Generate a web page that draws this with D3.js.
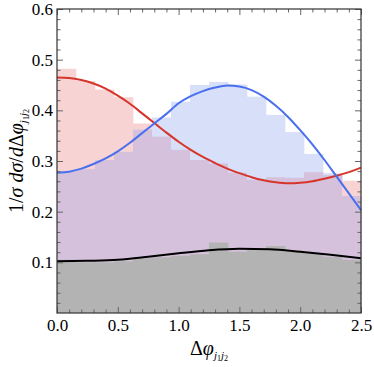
<!DOCTYPE html>
<html><head><meta charset="utf-8">
<script src="https://cdn.jsdelivr.net/npm/d3@7"></script>
<style>body{margin:0;background:#fff}</style>
</head><body><svg id="c" width="374" height="367"></svg>
<script>
// ---- data ----
const binStarts = [0,0.15625,0.3125,0.46875,0.625,0.78125,0.9375,1.09375,1.25,1.40625,1.5625,1.71875,1.875,2.03125,2.1875,2.34375];
const binWidth = 0.15625;
const redHist  = [0.482,0.458,0.441,0.426,0.374,0.348,0.322,0.302,0.295,0.277,0.263,0.268,0.267,0.278,0.272,0.261];
const blueHist = [0.280,0.284,0.302,0.318,0.362,0.386,0.417,0.450,0.456,0.451,0.427,0.391,0.357,0.314,0.276,0.231];
const grayHist = [0.105,0.100,0.100,0.102,0.108,0.110,0.113,0.116,0.139,0.121,0.124,0.132,0.123,0.118,0.111,0.105];

const curveX    = [0,0.1,0.2,0.3,0.4,0.5,0.6,0.7,0.8,0.9,1.0,1.1,1.2,1.3,1.4,1.5,1.6,1.7,1.8,1.9,2.0,2.1,2.2,2.3,2.4,2.5];
const redCurve  = [0.465,0.464,0.460,0.453,0.443,0.429,0.413,0.394,0.375,0.356,0.338,0.322,0.308,0.296,0.285,0.276,0.268,0.262,0.258,0.256,0.257,0.260,0.265,0.271,0.278,0.287];
const blueCurve = [0.277,0.279,0.285,0.294,0.305,0.319,0.336,0.355,0.374,0.393,0.414,0.428,0.438,0.445,0.449,0.447,0.440,0.427,0.409,0.387,0.361,0.333,0.302,0.269,0.236,0.203];
const blackX    = [0,0.25,0.5,0.75,1.0,1.25,1.5,1.75,2.0,2.25,2.5];
const blackCurve= [0.102,0.103,0.105,0.111,0.118,0.124,0.127,0.126,0.121,0.115,0.108];

const xMajor = [0,0.5,1.0,1.5,2.0,2.5];
const xMinor = [0.1,0.2,0.3,0.4,0.6,0.7,0.8,0.9,1.1,1.2,1.3,1.4,1.6,1.7,1.8,1.9,2.1,2.2,2.3,2.4];
const yMajor = [0.1,0.2,0.3,0.4,0.5,0.6];
const yMinor = [0.02,0.04,0.06,0.08,0.12,0.14,0.16,0.18,0.22,0.24,0.26,0.28,0.32,0.34,0.36,0.38,0.42,0.44,0.46,0.48,0.52,0.54,0.56,0.58];

// ---- layout ----
const L = 57, R = 361, T = 9, B = 313;
const svg = d3.select("#c");
const x = d3.scaleLinear().domain([0,2.5]).range([L,R]);
const y = d3.scaleLinear().domain([0,0.6]).range([B,T]);
const serif = "'Liberation Serif','Times New Roman',serif";

const C = {pink:"#f7d3d3", lblue:"#d7dff9", purple:"#d5c1db", gray:"#b3b3b3",
           red:"#d7352b", blue:"#4a6fee", black:"#000"};

// histograms
const g = svg.append("g");
binStarts.forEach((b,i)=>{
  const x0 = x(b), w = x(b+binWidth)-x(b);
  g.append("rect").attr("x",x0).attr("width",w+0.3).attr("y",y(redHist[i])).attr("height",B-y(redHist[i])).attr("fill",C.pink);
  g.append("rect").attr("x",x0).attr("width",w+0.3).attr("y",y(blueHist[i])).attr("height",B-y(blueHist[i])).attr("fill",C.lblue);
  const m = Math.min(redHist[i],blueHist[i]);
  g.append("rect").attr("x",x0).attr("width",w+0.3).attr("y",y(m)).attr("height",B-y(m)).attr("fill",C.purple);
});
binStarts.forEach((b,i)=>{
  const x0 = x(b), w = x(b+binWidth)-x(b);
  g.append("rect").attr("x",x0).attr("width",w+0.3).attr("y",y(grayHist[i])).attr("height",B-y(grayHist[i])).attr("fill",C.gray);
});

// curves
const line = d3.line().x(d=>x(d[0])).y(d=>y(d[1])).curve(d3.curveMonotoneX);
svg.append("path").attr("d",line(curveX.map((v,i)=>[v,redCurve[i]]))).attr("fill","none").attr("stroke",C.red).attr("stroke-width",2);
svg.append("path").attr("d",line(curveX.map((v,i)=>[v,blueCurve[i]]))).attr("fill","none").attr("stroke",C.blue).attr("stroke-width",2);
svg.append("path").attr("d",line(blackX.map((v,i)=>[v,blackCurve[i]]))).attr("fill","none").attr("stroke",C.black).attr("stroke-width",2);

// axes (inward ticks)
function styleAxis(sel){
  sel.select(".domain").remove();
  sel.selectAll(".tick line").attr("stroke","#666");
  sel.selectAll("text").attr("fill","#000").style("font-family",serif).style("font-size","17px");
}
svg.append("g").attr("transform",`translate(0,${B})`).call(d3.axisBottom(x).tickValues(xMajor).tickSizeInner(-6).tickSizeOuter(0).tickPadding(6).tickFormat(d3.format(".1f"))).call(styleAxis);
svg.append("g").attr("transform",`translate(0,${B})`).call(d3.axisBottom(x).tickValues(xMinor).tickSizeInner(-3.5).tickSizeOuter(0).tickFormat("")).call(styleAxis);
svg.append("g").attr("transform",`translate(0,${T})`).call(d3.axisTop(x).tickValues(xMajor).tickSizeInner(-6).tickSizeOuter(0).tickFormat("")).call(styleAxis);
svg.append("g").attr("transform",`translate(0,${T})`).call(d3.axisTop(x).tickValues(xMinor).tickSizeInner(-3.5).tickSizeOuter(0).tickFormat("")).call(styleAxis);
svg.append("g").attr("transform",`translate(${L},0)`).call(d3.axisLeft(y).tickValues(yMajor).tickSizeInner(-6).tickSizeOuter(0).tickPadding(4).tickFormat(d3.format(".1f"))).call(styleAxis);
svg.append("g").attr("transform",`translate(${L},0)`).call(d3.axisLeft(y).tickValues(yMinor).tickSizeInner(-3.5).tickSizeOuter(0).tickFormat("")).call(styleAxis);
svg.append("g").attr("transform",`translate(${R},0)`).call(d3.axisRight(y).tickValues(yMajor).tickSizeInner(-6).tickSizeOuter(0).tickFormat("")).call(styleAxis);
svg.append("g").attr("transform",`translate(${R},0)`).call(d3.axisRight(y).tickValues(yMinor).tickSizeInner(-3.5).tickSizeOuter(0).tickFormat("")).call(styleAxis);

// frame
svg.append("rect").attr("x",L).attr("y",T).attr("width",R-L).attr("height",B-T).attr("fill","none").attr("stroke","#333").attr("stroke-width",1.2);

// x title
const xt = svg.append("text").attr("x",(L+R)/2).attr("y",355).attr("text-anchor","middle")
  .style("font-family",serif).style("font-size","20px");
xt.append("tspan").text("Δ");
xt.append("tspan").style("font-style","italic").text("φ");
xt.append("tspan").attr("dy",4).style("font-size","11px").style("font-style","italic").text("j");
xt.append("tspan").attr("dy",2).style("font-size","8px").text("1");
xt.append("tspan").attr("dy",-2).style("font-size","11px").style("font-style","italic").text("j");
xt.append("tspan").attr("dy",2).style("font-size","8px").text("2");

// y title
const yt = svg.append("text").attr("transform",`translate(23,${(T+B)/2}) rotate(-90)`).attr("text-anchor","middle")
  .style("font-family",serif).style("font-size","20px");
yt.append("tspan").text("1/");
yt.append("tspan").style("font-style","italic").text("σ");
yt.append("tspan").text(" ");
yt.append("tspan").style("font-style","italic").text("dσ");
yt.append("tspan").text("/");
yt.append("tspan").style("font-style","italic").text("d");
yt.append("tspan").text("Δ");
yt.append("tspan").style("font-style","italic").text("φ");
yt.append("tspan").attr("dy",4).style("font-size","11px").style("font-style","italic").text("j");
yt.append("tspan").attr("dy",2).style("font-size","8px").text("1");
yt.append("tspan").attr("dy",-2).style("font-size","11px").style("font-style","italic").text("j");
yt.append("tspan").attr("dy",2).style("font-size","8px").text("2");
</script>
</body></html>
